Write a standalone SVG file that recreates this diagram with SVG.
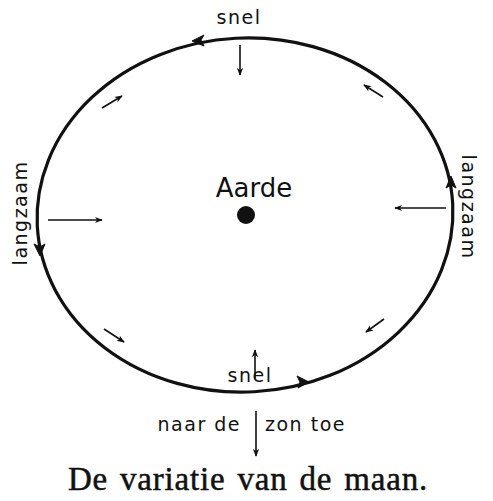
<svg xmlns="http://www.w3.org/2000/svg" width="493" height="501" viewBox="0 0 493 501">
<defs>
<style>
.lbl{font-family:"DejaVu Sans","Liberation Sans",sans-serif;font-size:19px;fill:#111;letter-spacing:1.5px}
.orbit{fill:none;stroke:#111;stroke-width:3.2}
.arr{stroke:#111;stroke-width:1.6;fill:none}
.head{fill:#111;stroke:#111;stroke-width:1}
</style>
<marker id="ah" viewBox="0 0 10 10" refX="9" refY="5" markerWidth="8" markerHeight="8" orient="auto" markerUnits="userSpaceOnUse">
<path d="M0,1 L10,5 L0,9 L3,5 Z" fill="#111"/>
</marker>
</defs>
<rect width="493" height="501" fill="#fff"/>
<g id="orbit">
<ellipse class="orbit" cx="245" cy="215" rx="208" ry="177" transform="rotate(-3 245 215)"/>
<path class="head" d="M192,41 L204,35 L201,40 L204,46 Z"/>
<path class="head" d="M309,382 L297,376 L300,382 L298,388 Z"/>
<path class="head" d="M40,256 L34,244 L40,247 L45,244 Z"/>
<path class="head" d="M451,176 L446,188 L451,185 L456,188 Z"/>
</g>
<g id="earth">
<circle cx="246" cy="215" r="9" fill="#111"/>
<text x="254" y="197" text-anchor="middle" style="font-family:'DejaVu Sans','Liberation Sans',sans-serif;font-size:26px;fill:#111">Aarde</text>
</g>
<g id="labels">
<text class="lbl" x="239" y="24" text-anchor="middle">snel</text>
<text class="lbl" x="250" y="382" text-anchor="middle">snel</text>
<text class="lbl" x="241" y="431" text-anchor="end">naar de</text>
<text class="lbl" x="265" y="431">zon toe</text>
<text class="lbl" transform="translate(27 213) rotate(-90)" text-anchor="middle">langzaam</text>
<text class="lbl" transform="translate(462 207) rotate(90)" text-anchor="middle">langzaam</text>
<text x="248" y="490" text-anchor="middle" style="font-family:'Liberation Serif',serif;font-size:33px;fill:#111;stroke:#111;stroke-width:0.5;letter-spacing:0.8px;word-spacing:3px">De variatie van de maan.</text>
</g>
<g id="connectors">
<line class="arr" x1="240" y1="45" x2="240" y2="75" marker-end="url(#ah)"/>
<line class="arr" x1="255" y1="378" x2="255" y2="350" marker-end="url(#ah)"/>
<line class="arr" x1="256" y1="411" x2="256" y2="456" marker-end="url(#ah)"/>
<line class="arr" x1="48" y1="220" x2="102" y2="220" marker-end="url(#ah)"/>
<line class="arr" x1="446" y1="208" x2="395" y2="208" marker-end="url(#ah)"/>
<line class="arr" x1="102" y1="108" x2="122" y2="96" marker-end="url(#ah)"/>
<line class="arr" x1="104" y1="329" x2="124" y2="342" marker-end="url(#ah)"/>
<line class="arr" x1="384" y1="319" x2="366" y2="332" marker-end="url(#ah)"/>
<line class="arr" x1="383" y1="97" x2="364" y2="85" marker-end="url(#ah)"/>
</g>
</svg>
